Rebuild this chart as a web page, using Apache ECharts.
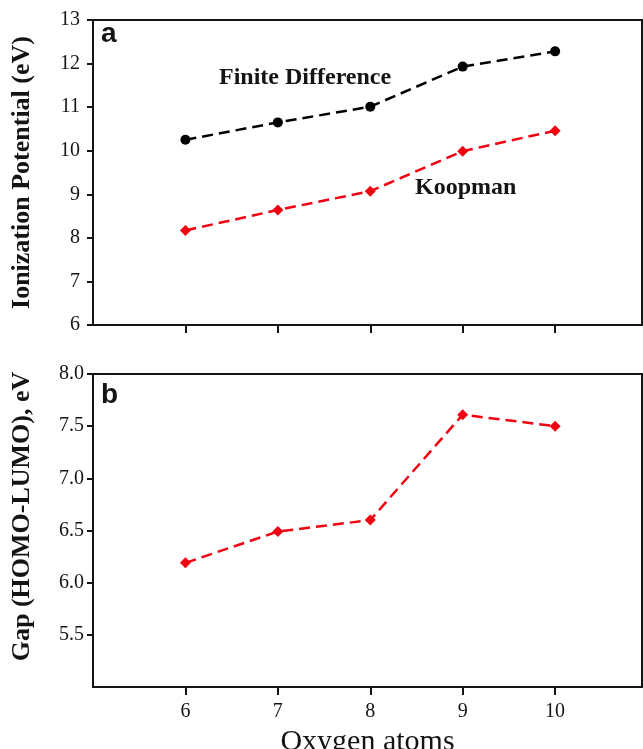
<!DOCTYPE html>
<html>
<head>
<meta charset="UTF-8" />
<title>Ionization potential and gap</title>
<script type="text/javascript" src="https://cdn.jsdelivr.net/npm/echarts@6/dist/echarts.min.js"></script>
<style>
  html, body { margin: 0; padding: 0; background: #fff; }
  #main { width: 643px; height: 749px; }
</style>
</head>
<body>
<div id="main"></div>
<script>
// data
var oxygen = [6, 7, 8, 9, 10];
var finiteDiff = [10.25, 10.65, 11.01, 11.93, 12.28];
var koopman = [8.17, 8.64, 9.07, 9.99, 10.46];
var gap = [6.19, 6.49, 6.6, 7.61, 7.5];

function pairs(xs, ys) {
    var out = [];
    for (let i = 0; i < xs.length; i++) {
        out.push([xs[i], ys[i]]);
    }
    return out;
}

var serif = 'Liberation Serif';
var red = '#f00010';
var ink = '#141414';

function xAx(idx, showLabels) {
    return {
        type: 'value', gridIndex: idx, min: 5, max: 10.94,
        splitLine: { show: false },
        axisLine: { lineStyle: { color: ink, width: 2 } },
        axisTick: { show: true, customValues: oxygen, length: 8, lineStyle: { color: ink, width: 2 } },
        axisLabel: {
            show: showLabels, customValues: oxygen, margin: 15,
            fontFamily: serif, fontSize: 20, color: ink
        },
        name: showLabels ? 'Oxygen atoms' : '',
        nameLocation: 'middle', nameGap: 40,
        nameTextStyle: { fontFamily: serif, fontSize: 30, color: ink }
    };
}

var myChart = echarts.init(document.getElementById('main'));
myChart.setOption({
    animation: false,
    grid: [
        { left: 93, top: 20, width: 549, height: 305, outerBoundsMode: 'none', show: true, borderColor: ink, borderWidth: 2 },
        { left: 93, top: 374, width: 549, height: 313, outerBoundsMode: 'none', show: true, borderColor: ink, borderWidth: 2 }
    ],
    xAxis: [xAx(0, false), xAx(1, true)],
    yAxis: [{
        type: 'value', gridIndex: 0, min: 6, max: 13, interval: 1,
        splitLine: { show: false },
        axisLine: { show: true, lineStyle: { color: ink, width: 2 } },
        axisTick: { show: true, length: 6, lineStyle: { color: ink, width: 2 } },
        axisLabel: { margin: 13, fontFamily: serif, fontSize: 20, color: ink },
        name: 'Ionization Potential (eV)', nameLocation: 'middle', nameGap: 58,
        nameTextStyle: { fontFamily: serif, fontSize: 26, fontWeight: 'bold', color: ink }
    }, {
        type: 'value', gridIndex: 1, min: 5, max: 8, interval: 0.5,
        splitLine: { show: false },
        axisLine: { show: true, lineStyle: { color: ink, width: 2 } },
        axisTick: { show: true, length: 6, lineStyle: { color: ink, width: 2 } },
        axisLabel: {
            margin: 9, showMinLabel: false, fontFamily: serif, fontSize: 20, color: ink,
            formatter: function (v) { return v.toFixed(1); }
        },
        name: 'Gap (HOMO-LUMO), eV', nameLocation: 'middle', nameGap: 58,
        nameTextStyle: { fontFamily: serif, fontSize: 26, fontWeight: 'bold', color: ink, padding: [0, 0, 0, 28] }
    }],
    series: [{
        name: 'Finite Difference', type: 'line', xAxisIndex: 0, yAxisIndex: 0,
        data: pairs(oxygen, finiteDiff),
        symbol: 'circle', symbolSize: 10,
        itemStyle: { color: '#000' },
        lineStyle: { color: '#000', width: 2.5, type: [11, 6] }
    }, {
        name: 'Koopman', type: 'line', xAxisIndex: 0, yAxisIndex: 0,
        data: pairs(oxygen, koopman),
        symbol: 'diamond', symbolSize: 11,
        itemStyle: { color: red },
        lineStyle: { color: red, width: 2.5, type: [11, 6] }
    }, {
        name: 'Gap', type: 'line', xAxisIndex: 1, yAxisIndex: 1,
        data: pairs(oxygen, gap),
        symbol: 'diamond', symbolSize: 11,
        itemStyle: { color: red },
        lineStyle: { color: red, width: 2.5, type: [11, 6] }
    }],
    graphic: [
        { type: 'text', left: 101, top: 20, style: { text: 'a', font: 'bold 28px Arial, "Liberation Sans"', fill: ink } },
        { type: 'text', left: 101, top: 381, style: { text: 'b', font: 'bold 28px Arial, "Liberation Sans"', fill: ink } },
        { type: 'text', left: 219, top: 66, style: { text: 'Finite Difference', font: 'bold 24px "Liberation Serif"', fill: ink } },
        { type: 'text', left: 415, top: 176, style: { text: 'Koopman', font: 'bold 24px "Liberation Serif"', fill: ink } }
    ]
});
</script>
</body>
</html>
